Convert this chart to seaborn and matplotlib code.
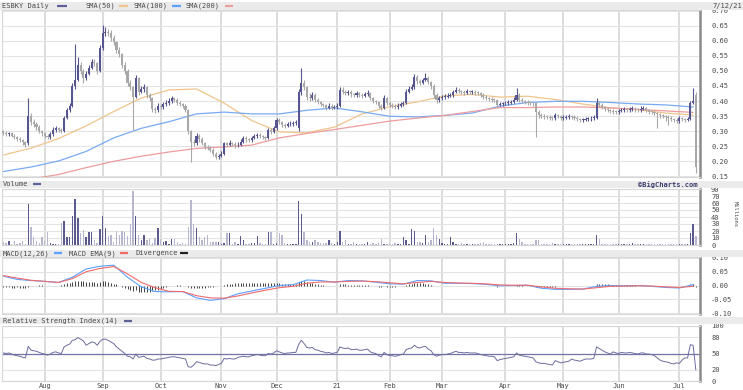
import numpy as np
import pandas as pd
import matplotlib
matplotlib.use("Agg")
import matplotlib.pyplot as plt
import seaborn as sns
from matplotlib.patches import Rectangle
from matplotlib.lines import Line2D

sns.set_theme(style="white")
plt.rcParams['font.family'] = ['DejaVu Sans Mono', 'DejaVu Sans']

# ---------------- data ----------------
HOLIDAYS = ['2020-09-07', '2020-11-26', '2020-12-25', '2021-01-01', '2021-01-18',
            '2021-02-15', '2021-04-02', '2021-05-31', '2021-07-05']
MONTH_LABELS = ['Aug', 'Sep', 'Oct', 'Nov', 'Dec', '21', 'Feb', 'Mar', 'Apr', 'May', 'Jun', 'Jul']

OPEN = [.30,.295,.29,.292,.285,.28,.275,.27,.262,.26,
        .35,.33,.325,.315,.30,.293,.285,.28,.29,.305,
        .31,.305,.30,.345,.37,.385,.45,.47,.52,.50,
        .475,.49,.51,.53,.525,.50,.575,.625,.63,.625,
        .61,.595,.57,.555,.52,.50,.46,.445,.415,.475,
        .43,.44,.447,.42,.41,.375,.37,.385,.38,.39,
        .395,.40,.41,.405,.395,.39,.385,.37,.30,.265,
        .26,.285,.275,.26,.248,.245,.238,.225,.215,.218,
        .225,.26,.255,.26,.258,.252,.255,.265,.277,.272,
        .27,.278,.282,.287,.283,.28,.278,.303,.298,.31,
        .337,.33,.32,.318,.322,.325,.328,.31,.43,.46,
        .445,.415,.41,.42,.405,.397,.39,.387,.377,.385,
        .378,.38,.385,.437,.43,.427,.43,.422,.42,.425,
        .42,.418,.423,.427,.41,.40,.397,.385,.377,.41,
        .395,.387,.385,.38,.385,.39,.393,.43,.44,.447,
        .48,.465,.46,.47,.477,.463,.45,.42,.403,.41,
        .413,.415,.418,.42,.43,.437,.432,.43,.428,.432,
        .43,.43,.428,.427,.42,.415,.41,.408,.405,.403,
        .387,.39,.392,.393,.395,.397,.405,.42,.403,.40,
        .397,.395,.393,.392,.363,.353,.35,.348,.347,.345,
        .343,.353,.35,.343,.345,.347,.35,.347,.345,.34,
        .337,.338,.34,.342,.343,.345,.393,.388,.38,.375,
        .37,.368,.365,.363,.368,.37,.372,.37,.373,.375,
        .372,.37,.375,.377,.37,.365,.363,.36,.356,.353,
        .35,.347,.345,.34,.337,.335,.343,.34,.337,.34,
        .395,.42]
HIGH = [.305,.30,.298,.297,.29,.285,.28,.275,.267,.41,
        .36,.34,.33,.32,.305,.298,.29,.297,.312,.318,
        .315,.31,.35,.378,.395,.46,.59,.545,.53,.505,
        .50,.52,.54,.54,.53,.585,.653,.645,.64,.635,
        .62,.60,.58,.56,.53,.505,.47,.45,.485,.48,
        .45,.455,.45,.425,.415,.38,.395,.39,.398,.405,
        .41,.418,.415,.41,.40,.395,.39,.372,.305,.275,
        .295,.29,.28,.265,.255,.25,.242,.23,.225,.232,
        .265,.265,.27,.265,.262,.262,.272,.285,.282,.278,
        .285,.29,.295,.292,.288,.285,.31,.31,.318,.345,
        .342,.335,.326,.33,.332,.335,.338,.44,.51,.47,
        .45,.425,.43,.425,.41,.40,.395,.39,.392,.39,
        .388,.392,.445,.445,.435,.437,.435,.428,.432,.43,
        .425,.43,.435,.43,.415,.405,.40,.39,.42,.415,
        .40,.392,.39,.392,.397,.40,.44,.45,.455,.49,
        .485,.472,.478,.492,.482,.468,.455,.425,.418,.42,
        .422,.425,.428,.438,.445,.442,.438,.435,.44,.437,
        .437,.435,.433,.43,.425,.42,.415,.413,.41,.407,
        .397,.398,.40,.402,.405,.412,.443,.428,.41,.405,
        .403,.40,.398,.395,.37,.36,.356,.355,.352,.35,
        .36,.358,.355,.352,.355,.357,.355,.352,.35,.345,
        .345,.347,.348,.35,.352,.41,.40,.392,.385,.38,
        .375,.372,.37,.375,.377,.38,.377,.38,.383,.38,
        .377,.382,.385,.38,.375,.37,.367,.365,.36,.358,
        .355,.352,.35,.345,.342,.35,.348,.345,.347,.40,
        .443,.43]
LOW = [.288,.283,.285,.28,.272,.268,.262,.255,.248,.255,
       .32,.315,.305,.292,.285,.278,.272,.275,.285,.298,
       .298,.293,.297,.34,.365,.38,.44,.465,.49,.46,
       .47,.485,.505,.515,.49,.495,.57,.615,.615,.60,
       .585,.56,.545,.51,.49,.45,.435,.303,.41,.42,
       .425,.43,.41,.40,.365,.36,.365,.372,.375,.385,
       .388,.395,.398,.388,.382,.378,.362,.29,.197,.25,
       .255,.265,.252,.24,.238,.23,.218,.208,.208,.212,
       .22,.248,.25,.25,.245,.247,.25,.26,.265,.263,
       .265,.272,.277,.277,.273,.27,.273,.29,.292,.305,
       .323,.313,.31,.312,.316,.318,.32,.30,.42,.435,
       .405,.40,.403,.398,.39,.382,.38,.37,.372,.37,
       .372,.375,.38,.422,.42,.42,.415,.413,.415,.412,
       .41,.412,.418,.402,.392,.39,.377,.37,.372,.388,
       .38,.378,.372,.375,.38,.385,.39,.425,.435,.44,
       .455,.452,.455,.465,.455,.44,.41,.395,.398,.405,
       .407,.41,.412,.415,.425,.425,.423,.42,.422,.423,
       .423,.42,.42,.413,.408,.403,.40,.398,.396,.38,
       .382,.385,.386,.388,.39,.392,.40,.396,.393,.39,
       .388,.386,.385,.28,.345,.343,.34,.34,.338,.336,
       .338,.343,.336,.337,.34,.34,.34,.338,.333,.33,
       .33,.332,.334,.335,.336,.34,.38,.372,.368,.363,
       .36,.358,.356,.358,.362,.365,.363,.365,.367,.365,
       .363,.365,.37,.363,.358,.356,.352,.31,.345,.342,
       .335,.32,.333,.33,.327,.328,.332,.33,.332,.338,
       .39,.16]
CLOSE = [.295,.29,.292,.285,.28,.275,.27,.262,.255,.35,
         .33,.325,.315,.30,.293,.285,.28,.29,.305,.31,
         .305,.30,.345,.37,.385,.45,.47,.52,.50,.475,
         .49,.51,.53,.525,.50,.575,.625,.63,.625,.61,
         .595,.57,.555,.52,.50,.46,.445,.415,.475,.43,
         .44,.447,.42,.41,.375,.37,.385,.38,.39,.395,
         .40,.41,.405,.395,.39,.385,.37,.30,.265,.26,
         .285,.275,.26,.248,.245,.238,.225,.215,.218,.225,
         .26,.255,.26,.258,.252,.255,.265,.277,.272,.27,
         .278,.282,.287,.283,.28,.278,.303,.298,.31,.337,
         .33,.32,.318,.322,.325,.328,.33,.43,.46,.445,
         .415,.41,.42,.405,.397,.39,.387,.377,.385,.378,
         .38,.385,.437,.43,.427,.43,.422,.42,.425,.42,
         .418,.423,.427,.41,.40,.397,.385,.377,.41,.395,
         .387,.385,.38,.385,.39,.393,.43,.44,.447,.48,
         .465,.46,.47,.477,.463,.45,.42,.403,.41,.413,
         .415,.418,.42,.43,.437,.432,.43,.428,.432,.43,
         .43,.428,.427,.42,.415,.41,.408,.405,.403,.387,
         .39,.392,.393,.395,.397,.405,.42,.403,.40,.397,
         .395,.393,.392,.363,.353,.35,.348,.347,.345,.343,
         .353,.35,.343,.345,.347,.35,.347,.345,.34,.337,
         .338,.34,.342,.343,.345,.393,.388,.38,.375,.37,
         .368,.365,.363,.368,.37,.372,.37,.373,.375,.372,
         .37,.375,.377,.37,.365,.363,.36,.356,.353,.35,
         .347,.345,.34,.337,.335,.343,.34,.337,.34,.395,
         .40,.18]
VOLUME = [5,3,6,1.5,6,2,3,6,1.5,59,
          26,11,6,3,11,6,19,3,2,2,
          2,31,34,11,11,41,66,39,17,22,
          11,19,18,7,3,23,41,24,13,15,
          4,20,15,20,19,13,30,77,41,14,
          7,15,7,9,3,10,24,9,4,6,
          2,9,8,4,2,3,2,26,64,30,
          24,11,7,11,14,5,4,5,5,2,
          3,17,17,2,4,2,13,7,2,2,
          3,3,13,3,2,2,18,19,2,3,
          17,15,3,2,2,1,2,63,45,19,
          7,4,4,7,4,3,3,3,7,3,
          2,4,20,4,7,2,2,4,2,2,
          2,2,4,1,3,2,3,8,2,1,
          2,2,3,2,1,12,7,2,23,20,
          4,4,3,15,4,7,25,15,8,3,
          1,2,11,5,2,2,3,2,2,1,
          2,2,2,3,4,2,2,2,1,1,
          2,1,2,2,2,3,17,9,4,1,
          2,1,2,7,7,2,2,1,2,3,
          2,2,1,2,2,2,1,1,2,1,
          2,1,1,2,2,14,9,2,2,1,
          2,1,2,1,1,2,1,2,3,1,
          1,1,1,2,1,1,1,2,1,1,
          1,1,1,1,2,1,1,2,2,17,
          30,13]

# moving averages, read every 10th trading day
SMA50 = [.22,.243,.275,.317,.365,.41,.437,.44,.393,.335,.297,.294,.313,
         .357,.381,.397,.417,.422,.413,.416,.405,.39,.377,.371,.36,.353]
SMA100 = [.165,.18,.20,.232,.277,.309,.331,.357,.363,.357,.357,.369,.377,
          .364,.349,.347,.352,.36,.383,.395,.399,.399,.395,.39,.387,.38]
SMA200 = [.13,.14,.155,.178,.199,.216,.23,.242,.247,.253,.277,.292,.305,
          .319,.333,.343,.352,.365,.378,.378,.38,.38,.377,.372,.367,.362]

# MACD lines, read every 5th trading day
MACD = [.034,.022,.018,.015,.011,.03,.06,.07,.074,.03,-.005,-.022,-.023,-.022,
        -.045,-.054,-.048,-.03,-.02,-.01,0.0,.003,.02,.018,.012,.018,.017,.012,
        .006,.005,.018,.017,.008,.008,.007,.004,-.001,0.0,.001,-.01,-.014,-.014,
        -.013,-.003,0.0,-.001,0.0,-.003,-.007,-.009,.003]
SIGNAL = [.036,.027,.019,.015,.011,.025,.05,.062,.069,.042,.011,-.008,-.021,-.022,
          -.037,-.045,-.046,-.038,-.027,-.017,-.008,-.003,.008,.013,.013,.015,.016,
          .014,.01,.006,.011,.015,.011,.009,.008,.006,.002,.001,.001,-.005,-.01,
          -.012,-.013,-.008,-.003,-.002,-.001,-.002,-.005,-.007,-.003]
DIVERGENCE = [-.006,-.007,-.007,-.008,-.008,-.007,-.008,-.009,-.008,-.004,
              -.002,-.002,-.001,.001,.001,0,-.001,-.002,-.002,-.001,
              0,.002,.005,.008,.01,.013,.016,.018,.017,.015,
              .012,.013,.014,.012,.01,.013,.016,.015,.013,.01,
              .007,.004,0,-.005,-.01,-.013,-.016,-.02,-.018,-.022,
              -.024,-.025,-.024,-.022,-.02,-.018,-.015,-.012,-.008,-.005,
              -.003,-.002,0,.001,.001,0,-.002,-.006,-.009,-.01,
              -.01,-.009,-.008,-.008,-.007,-.006,-.005,-.003,-.002,0,
              .003,.005,.006,.007,.008,.008,.009,.008,.008,.008,
              .008,.008,.009,.009,.008,.008,.009,.009,.009,.01,
              .008,.007,.006,.006,.005,.005,.005,.012,.016,.015,
              .012,.01,.009,.007,.005,.003,.002,0,-.001,-.002,
              -.002,-.001,.004,.004,.004,.003,.002,.002,.002,.001,
              .001,.001,.001,-.001,-.002,-.003,-.004,-.005,-.003,-.004,
              -.004,-.004,-.004,-.003,-.002,-.001,.003,.005,.007,.01,
              .009,.008,.008,.007,.005,.003,0,-.002,-.003,-.003,
              -.003,-.002,-.002,-.001,0,0,0,0,0,0,
              0,0,-.001,-.001,-.002,-.002,-.002,-.003,-.003,-.004,
              -.003,-.002,-.002,-.001,-.001,0,.002,.001,.001,0,
              0,0,-.001,-.005,-.007,-.007,-.007,-.006,-.006,-.005,
              -.004,-.003,-.003,-.002,-.002,-.002,-.001,-.001,-.001,-.001,
              -.001,0,0,0,0,.005,.006,.005,.005,.004,
              .003,.002,.002,.002,.001,.001,.001,.001,.001,.001,
              0,0,0,-.001,-.001,-.001,-.002,-.002,-.002,-.002,
              -.002,-.002,-.002,-.002,-.002,-.001,-.001,-.001,-.001,.005,
              .006,-.004]
RSI = [51,50,51,49,47,46,45,43,42,63,
       56,55,54,52,50,49,47,49,52,53,
       51,50,62,65,67,74,75,79,76,73,
       65,68,71,70,65,72,76,76,74,71,
       68,62,58,54,50,45,44,40,49,43,
       44,45,41,40,38,38,40,40,41,42,
       43,44,44,43,42,41,40,26,25,29,
       35,34,32,31,31,29,29,28,30,32,
       41,40,41,40,40,43,44,45,44,44,
       46,47,48,47,46,46,50,49,51,55,
       53,51,50,51,51,52,52,66,74,68,
       61,60,61,57,56,54,53,51,52,50,
       51,52,62,60,59,60,57,57,58,56,
       56,57,58,53,51,50,46,44,52,48,
       46,46,45,46,48,49,57,59,60,65,
       61,60,62,63,58,55,48,45,47,48,
       48,49,50,52,54,52,52,51,52,51,
       51,51,50,48,47,46,45,45,44,37,
       39,40,41,42,43,44,51,47,46,45,
       44,43,42,35,33,32,32,31,30,29,
       37,35,33,34,35,36,40,38,37,36,
       38,40,40,40,41,62,59,56,53,51,
       49,53,51,50,52,51,51,52,51,50,
       49,51,51,49,49,48,46,42,38,36,
       35,34,32,31,33,32,38,42,42,66,
       65,20]

# ---------------- derived frames ----------------
dates = pd.bdate_range('2020-07-13', '2021-07-12')
dates = dates[~dates.isin(pd.to_datetime(HOLIDAYS))]
n = len(dates)
idx = np.arange(n)
px = pd.DataFrame({'i': idx, 'date': dates, 'open': OPEN, 'high': HIGH,
                   'low': LOW, 'close': CLOSE, 'vol': VOLUME,
                   'div': DIVERGENCE, 'rsi': RSI})
sma = pd.DataFrame({'i': idx[::10], 'sma50': SMA50, 'sma100': SMA100, 'sma200': SMA200})
macd = pd.DataFrame({'i': idx[::5], 'macd': MACD, 'signal': SIGNAL})
month_starts = [i for i in range(1, n) if dates[i].month != dates[i - 1].month]

# ---------------- figure ----------------
W, H = 743, 390
fig = plt.figure(figsize=(W / 100, H / 100), dpi=100)
fig.patch.set_facecolor('white')

def axes_px(l, t, r, b):
    return fig.add_axes([l / W, 1 - b / H, (r - l) / W, (b - t) / H])

def fx(x):
    return x / W

def fy(y):
    return 1 - y / H

NAVY = '#565690'
GRAY = '#a8a8a8'
VNAVY = '#5a5a8e'
VLAV = '#b6b6cf'
TXT = '#4a4a4a'
FS = 5

ax_p = axes_px(2, 10, 700, 177)
ax_v = axes_px(2, 189, 700, 245)
ax_m = axes_px(2, 257, 700, 314)
ax_r = axes_px(2, 326, 700, 381)

for ax in (ax_p, ax_v, ax_m, ax_r):
    ax.set_facecolor('white')
    ax.set_xlim(-0.5, n + 0.5)
    for s in ('top', 'left', 'bottom'):
        ax.spines[s].set_color('#d6d6d6')
        ax.spines[s].set_linewidth(0.8)
    ax.spines['right'].set_color('#8a8a8a')
    ax.spines['right'].set_linewidth(1.8)
    ax.yaxis.tick_right()
    ax.tick_params(axis='y', length=0, pad=8, labelsize=FS, labelcolor=TXT)
    ax.tick_params(axis='x', length=0, labelbottom=False)
    ax.set_xticks(month_starts)
    ax.grid(axis='x', color='#d9d9d9', lw=1.3)
    ax.grid(axis='y', color='#e4e4e4', lw=0.8)
    ax.set_axisbelow(True)

# ---- price panel ----
up = px['close'] >= px['open']
ccol = np.where(up, NAVY, GRAY)
ax_p.vlines(px['i'], px['low'], px['high'], colors=ccol, lw=0.8, zorder=3)
body = np.maximum((px['close'] - px['open']).abs(), 0.003)
ax_p.bar(px['i'], body, bottom=np.minimum(px['open'], px['close']),
         width=0.75, color=ccol, lw=0, zorder=3)
sns.lineplot(data=sma, x='i', y='sma50', ax=ax_p, color='#efc48c', lw=0.9, zorder=2)
sns.lineplot(data=sma, x='i', y='sma100', ax=ax_p, color='#78aaf2', lw=0.9, zorder=2)
sns.lineplot(data=sma, x='i', y='sma200', ax=ax_p, color='#ee9c9c', lw=0.9, zorder=2)
ax_p.set_ylim(0.1467, 0.7033)
pt = [0.70, 0.65, 0.60, 0.55, 0.50, 0.45, 0.40, 0.35, 0.30, 0.25, 0.20, 0.15]
ax_p.set_yticks(pt)
ax_p.set_yticklabels(['%.2f' % v for v in pt])

# ---- volume panel ----
vcol = np.where(up, VNAVY, VLAV)
ax_v.bar(px['i'], px['vol'], width=0.5, color=vcol, lw=0, zorder=3)
ax_v.set_ylim(0, 80)
ax_v.set_yticks([0, 10, 20, 30, 40, 50, 60, 70, 80])
ax_v.set_yticklabels(['0', '10', '20', '30', '40', '50', '60', '70', '90'])

# ---- MACD panel ----
ax_m.vlines(px['i'], 0, px['div'], colors='#222222', lw=0.6, zorder=3)
sns.lineplot(data=macd, x='i', y='macd', ax=ax_m, color='#5ea0ff', lw=0.8, zorder=4)
sns.lineplot(data=macd, x='i', y='signal', ax=ax_m, color='#f06a6a', lw=0.8, zorder=4)
ax_m.set_ylim(-0.1036, 0.1036)
mt = [0.10, 0.05, 0.0, -0.05, -0.10]
ax_m.set_yticks(mt)
ax_m.set_yticklabels(['0.10', '0.05', '0.00', '-0.05', '-0.10'])

# ---- RSI panel ----
ax_r.axhline(50, color='#7474a6', lw=0.9, zorder=2)
sns.lineplot(data=px, x='i', y='rsi', ax=ax_r, color='#6c6c9e', lw=0.7, zorder=3)
ax_r.set_ylim(0, 100)
ax_r.set_yticks([100, 80, 50, 20, 0])
ax_r.set_yticklabels(['100', '80', '50', '20', '0'])
ax_r.tick_params(axis='x', labelbottom=True, pad=1.5, labelsize=FS, labelcolor=TXT)
ax_r.set_xticklabels(MONTH_LABELS)
for ax in (ax_p, ax_v, ax_m, ax_r):
    ax.set_xlabel('')
    ax.set_ylabel('')

# ---- header bands ----
for (t, b) in [(2, 9.5), (181, 187.5), (250, 256.5), (317, 324)]:
    fig.patches.append(Rectangle((0, fy(b)), 1, (b - t) / H, transform=fig.transFigure,
                                 facecolor='#ebebeb', edgecolor='none', zorder=0))

def htext(x, y, s, **kw):
    kw.setdefault('color', TXT)
    fig.text(fx(x), fy(y), s, fontsize=FS, va='center', ha=kw.pop('ha', 'left'), **kw)

def swatch(x0, x1, y, c):
    fig.lines.append(Line2D([fx(x0), fx(x1)], [fy(y), fy(y)], transform=fig.transFigure,
                            color=c, lw=1.6, solid_capstyle='butt'))

htext(2, 5.8, 'ESBKY Daily')
swatch(57, 67, 5.8, '#60609a')
htext(85, 5.8, 'SMA(50)')
swatch(119, 128, 5.8, '#efc48c')
htext(133, 5.8, 'SMA(100)')
swatch(172, 181, 5.8, '#5ea0ff')
htext(186, 5.8, 'SMA(200)')
swatch(225, 233, 5.8, '#ee9c9c')
htext(712, 5.8, '7/12/21')

htext(3, 184.3, 'Volume')
swatch(33, 41, 184.3, '#60609a')
htext(698, 184.3, '\u00a9BigCharts.com', ha='right', color='#3b3b6e', fontweight='bold')
fig.text(fx(735), fy(214), 'Millions', fontsize=4, rotation=270, va='center', ha='center', color=TXT)

htext(3, 253.3, 'MACD(12,26)')
swatch(54, 62, 253.3, '#5ea0ff')
htext(69, 253.3, 'MACD EMA(9)')
swatch(120, 128, 253.3, '#f06a6a')
htext(135, 253.3, 'Divergence')
swatch(180, 188, 253.3, '#222222')

htext(3, 320.5, 'Relative Strength Index(14)')
swatch(124, 132, 320.5, '#60609a')

fig.savefig('out.png', dpi=100, facecolor='white')
